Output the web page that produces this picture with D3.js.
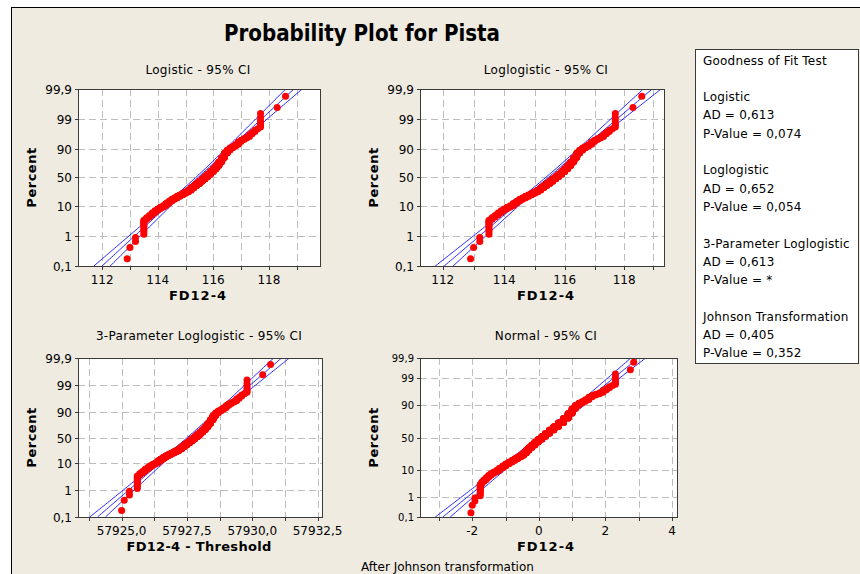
<!DOCTYPE html>
<html>
<head>
<meta charset="utf-8">
<script src="https://cdn.jsdelivr.net/npm/d3@7"></script>
<style>
body { margin: 0; background: #fff; }
svg text { font-family: "DejaVu Sans", Verdana, sans-serif; fill: #000; }
</style>
</head>
<body>
<svg id="chart" width="860" height="574"></svg>
<script>
(function(){
"use strict";

// measured FD12-4 values (0.1 resolution) and how many samples sit on each
var fdValues = [112.9,113.0,113.2,113.5,113.6,113.7,113.8,113.9,114.0,114.1,114.2,
    114.3,114.4,114.5,114.6,114.7,114.8,114.9,115.0,115.1,115.2,115.3,115.4,115.5,
    115.6,115.7,115.8,115.9,116.0,116.1,116.2,116.3,116.4,116.5,116.6,116.7,116.8,
    116.9,117.0,117.1,117.2,117.3,117.4,117.5,117.6,117.7,118.3,118.6];
var fdCounts = [1,1,2,10,3,3,4,4,4,4,4,
    7,7,7,7,7,7,8,8,11,15,15,15,17,
    18,18,19,20,20,21,22,21,18,10,6,4,4,
    5,3,2,2,3,2,2,1,6,1,1];
// same values after the Johnson transformation
var johnsonZ = [-2.04,-2.00,-1.92,-1.76,-1.71,-1.65,-1.58,-1.51,-1.44,-1.36,-1.27,
    -1.18,-1.08,-0.99,-0.90,-0.81,-0.72,-0.63,-0.54,-0.46,-0.38,-0.30,-0.21,-0.12,
    -0.02,0.09,0.20,0.32,0.45,0.59,0.74,0.88,1.00,1.10,1.20,1.30,1.40,
    1.50,1.60,1.71,1.82,1.93,2.03,2.12,2.21,2.30,2.75,2.85];

// fitted parameters
var logisticLoc = 115.45, logisticScale = 0.50;
var loglogMedian = 115.45, loglogScale = 0.00433;
var threshold3 = -57812.1;
var loglog3Median = 57927.6, loglog3Scale = 0.0000088;
var normalMean = 0.05, normalSd = 0.95;

var pctTicks = [0.1, 1, 10, 50, 90, 99, 99.9];
var pctLabels = ["0,1", "1", "10", "50", "90", "99", "99,9"];
var pctGrid = [1, 10, 50, 90, 99];

var gofNames = ["Logistic", "Loglogistic", "3-Parameter Loglogistic", "Johnson Transformation"];
var gofAD = ["0,613", "0,652", "0,613", "0,405"];
var gofP = ["0,074", "0,054", "*", "0,352"];

var n = d3.sum(fdCounts);
var commaFmt = d3.formatLocale({decimal: ",", thousands: ".", grouping: [3], currency: ["", ""], minus: "-"});

/* inverse standard normal, Acklam */
function qnorm(p){
    var a = [-39.69683028665376, 220.9460984245205, -275.9285104469687, 138.3577518672690, -30.66479806614716, 2.506628277459239];
    var b = [-54.47609879822406, 161.5858368580409, -155.6989798598866, 66.80131188771972, -13.28068155288572];
    var c = [-0.007784894002430293, -0.3223964580411365, -2.400758277161838, -2.549732539343734, 4.374664141464968, 2.938163982698783];
    var d = [0.007784695709041462, 0.3224671290700398, 2.445134137142996, 3.754408661907416];
    var q, r;
    if ( p < 0.02425 ){
        q = Math.sqrt(-2 * Math.log(p));
        return (((((c[0]*q+c[1])*q+c[2])*q+c[3])*q+c[4])*q+c[5]) / ((((d[0]*q+d[1])*q+d[2])*q+d[3])*q+1);
    }else if ( p > 1 - 0.02425 ){
        q = Math.sqrt(-2 * Math.log(1 - p));
        return -(((((c[0]*q+c[1])*q+c[2])*q+c[3])*q+c[4])*q+c[5]) / ((((d[0]*q+d[1])*q+d[2])*q+d[3])*q+1);
    }
    q = p - 0.5; r = q * q;
    return (((((a[0]*r+a[1])*r+a[2])*r+a[3])*r+a[4])*r+a[5])*q / (((((b[0]*r+b[1])*r+b[2])*r+b[3])*r+b[4])*r+1);
}
function logit(p){ return Math.log(p / (1 - p)); }

// std error factor of a logistic percentile, in units of the scale
function logisSE(t){ return Math.sqrt((3 + t * t * 9 / (3 + Math.PI * Math.PI)) / n); }
function normSE(t){ return Math.sqrt((1 + t * t / 2) / n); }

// expand to the sorted sample with median-rank plotting positions
var sample = [];
fdValues.forEach(function(v, i){
    for ( var k = 0; k < fdCounts[i]; k++ ) sample.push({ v: v, z: johnsonZ[i] });
});
sample.forEach(function(s, i){ s.p = (i + 1 - 0.3) / (n + 0.4); });

var svg = d3.select("#chart");
svg.append("rect").attr("width", 860).attr("height", 574).attr("fill", "#fff");
svg.append("rect").attr("x", 11.5).attr("y", 7.5).attr("width", 900).attr("height", 600)
    .attr("fill", "#efebe1").attr("stroke", "#000");

svg.append("text").attr("x", 362).attr("y", 41).attr("text-anchor", "middle")
    .style("font-family", "'Liberation Sans Narrow','DejaVu Sans Condensed','Liberation Sans',sans-serif")
    .style("font-weight", "bold").style("font-size", "23px")
    .attr("textLength", 276).attr("lengthAdjust", "spacingAndGlyphs")
    .text("Probability Plot for Pista");

var panels = [
    { id: "p1", x0: 78, x1: 320, y0: 89, y1: 266, cx: 198, titleY: 74,
      title: "Logistic - 95% CI", xlabel: "FD12-4", labelSpacing: 1,
      x: d3.scaleLinear().domain([111.13, 119.84]),
      tf: logit, yFont: 12,
      grid: d3.range(112, 120, 1), ticks: [112, 114, 116, 118], fmt: String,
      px: function(s){ return s.v; },
      quant: function(t, k){ return logisticLoc + logisticScale * (t + k * 1.96 * logisSE(t)); } },
    { id: "p2", x0: 420, x1: 664, y0: 89, y1: 266, cx: 546, titleY: 74,
      title: "Loglogistic - 95% CI", xlabel: "FD12-4", labelSpacing: 1,
      x: d3.scaleLog().domain([111.27, 119.36]),
      tf: logit, yFont: 12,
      grid: d3.range(112, 120, 1), ticks: [112, 114, 116, 118], fmt: String,
      px: function(s){ return s.v; },
      quant: function(t, k){ return Math.exp(Math.log(loglogMedian) + loglogScale * (t + k * 1.96 * logisSE(t))); } },
    { id: "p3", x0: 78, x1: 322, y0: 358, y1: 517, cx: 199, titleY: 340,
      title: "3-Parameter Loglogistic - 95% CI", xlabel: "FD12-4 - Threshold", labelSpacing: 0.3,
      x: d3.scaleLinear().domain([57923.33, 57932.67]),
      tf: logit, yFont: 12,
      grid: d3.range(57923.75, 57932.6, 1.25), ticks: [57925, 57927.5, 57930, 57932.5], fmt: commaFmt.format(".1f"),
      px: function(s){ return s.v - threshold3; },
      quant: function(t, k){ return Math.exp(Math.log(loglog3Median) + loglog3Scale * (t + k * 1.96 * logisSE(t))); } },
    { id: "p4", x0: 420, x1: 677, y0: 358, y1: 517, cx: 546, titleY: 340,
      title: "Normal - 95% CI", xlabel: "FD12-4", labelSpacing: 1,
      x: d3.scaleLinear().domain([-3.57, 4.15]),
      tf: qnorm, yFont: 10,
      grid: d3.range(-3, 5, 1), ticks: [-2, 0, 2, 4], fmt: commaFmt.format("d"),
      px: function(s){ return s.z; },
      quant: function(t, k){ return normalMean + normalSd * (t + k * 1.96 * normSE(t)); } }
];

function drawPanel(cfg){
    var g = svg.append("g");
    var x = cfg.x.range([cfg.x0, cfg.x1]);
    var tLo = cfg.tf(0.001), tHi = cfg.tf(0.999);
    var y = d3.scaleLinear().domain([tLo, tHi]).range([cfg.y1, cfg.y0]);

    g.append("clipPath").attr("id", "clip-" + cfg.id)
        .append("rect").attr("x", cfg.x0).attr("y", cfg.y0)
        .attr("width", cfg.x1 - cfg.x0).attr("height", cfg.y1 - cfg.y0);

    g.append("rect").attr("x", cfg.x0).attr("y", cfg.y0)
        .attr("width", cfg.x1 - cfg.x0).attr("height", cfg.y1 - cfg.y0).attr("fill", "#fff");

    // dashed grid
    g.selectAll(".vgrid").data(cfg.grid).enter().append("line")
        .attr("x1", function(d){ return Math.round(x(d)) + 0.5; })
        .attr("x2", function(d){ return Math.round(x(d)) + 0.5; })
        .attr("y1", cfg.y0).attr("y2", cfg.y1)
        .attr("stroke", "#bdbdbd").attr("stroke-dasharray", "7,4");
    g.selectAll(".hgrid").data(pctGrid).enter().append("line")
        .attr("y1", function(d){ return Math.round(y(cfg.tf(d / 100))) + 0.5; })
        .attr("y2", function(d){ return Math.round(y(cfg.tf(d / 100))) + 0.5; })
        .attr("x1", cfg.x0).attr("x2", cfg.x1)
        .attr("stroke", "#bdbdbd").attr("stroke-dasharray", "7,4");

    // fitted line with 95% CI
    var ts = d3.range(0, 101).map(function(i){ return tLo + (tHi - tLo) * i / 100; });
    var plot = g.append("g").attr("clip-path", "url(#clip-" + cfg.id + ")");
    [-1, 0, 1].forEach(function(k){
        plot.append("path")
            .datum(ts)
            .attr("fill", "none").attr("stroke", "#1010ff").attr("stroke-width", 0.9)
            .attr("d", d3.line()
                .x(function(t){ return x(cfg.quant(t, k)); })
                .y(function(t){ return y(t); }));
    });

    plot.selectAll("circle").data(sample).enter().append("circle")
        .attr("cx", function(s){ return x(cfg.px(s)); })
        .attr("cy", function(s){ return y(cfg.tf(s.p)); })
        .attr("r", 3.5).attr("fill", "#f00");

    g.append("rect").attr("x", cfg.x0 + 0.5).attr("y", cfg.y0 + 0.5)
        .attr("width", cfg.x1 - cfg.x0).attr("height", cfg.y1 - cfg.y0)
        .attr("fill", "none").attr("stroke", "#3a3a3a");

    // y axis
    pctTicks.forEach(function(d, i){
        var yy = Math.round(y(cfg.tf(d / 100))) + 0.5;
        g.append("line").attr("x1", cfg.x0 - 3).attr("x2", cfg.x0).attr("y1", yy).attr("y2", yy).attr("stroke", "#3a3a3a");
        g.append("text").attr("x", cfg.x0 - 6).attr("y", yy).attr("dy", "0.35em")
            .attr("text-anchor", "end").style("font-size", cfg.yFont + "px")
            .text(pctLabels[i]);
    });
    // x axis
    cfg.grid.forEach(function(d){
        var xx = Math.round(x(d)) + 0.5;
        g.append("line").attr("x1", xx).attr("x2", xx).attr("y1", cfg.y1).attr("y2", cfg.y1 + 4).attr("stroke", "#3a3a3a");
    });
    cfg.ticks.forEach(function(d){
        g.append("text").attr("x", x(d)).attr("y", cfg.y1 + 18)
            .attr("text-anchor", "middle").style("font-size", "12px")
            .text(cfg.fmt(d));
    });

    g.append("text").attr("x", cfg.cx).attr("y", cfg.titleY)
        .attr("text-anchor", "middle").style("font-size", "12px").style("letter-spacing", "0.3px")
        .text(cfg.title);
    g.append("text").attr("x", cfg.cx).attr("y", cfg.y1 + 34)
        .attr("text-anchor", "middle").style("font-size", "13px").style("font-weight", "bold")
        .style("letter-spacing", cfg.labelSpacing + "px")
        .text(cfg.xlabel);
    var ly = (cfg.y0 + cfg.y1) / 2, lx = cfg.x0 - 47;
    g.append("text").attr("transform", "translate(" + lx + "," + ly + ") rotate(-90)")
        .attr("text-anchor", "middle").attr("dy", "0.35em")
        .style("font-size", "13px").style("font-weight", "bold").style("letter-spacing", "0.5px")
        .text("Percent");
}

panels.forEach(drawPanel);

// goodness of fit box
svg.append("rect").attr("x", 695.5).attr("y", 49.5).attr("width", 163).attr("height", 314)
    .attr("fill", "#fff").attr("stroke", "#3a3a3a");
var lines = ["Goodness of Fit Test", ""];
gofNames.forEach(function(name, i){
    lines.push(name, "AD = " + gofAD[i], "P-Value = " + gofP[i], "");
});
svg.selectAll(".gof").data(lines).enter().append("text")
    .attr("x", 703).attr("y", function(d, i){ return 64.5 + i * 18.3; })
    .style("font-size", "12px").style("letter-spacing", "0.2px")
    .text(function(d){ return d; });

svg.append("text").attr("x", 361).attr("y", 571).style("font-size", "12px")
    .text("After Johnson transformation");

})();
</script>
</body>
</html>
